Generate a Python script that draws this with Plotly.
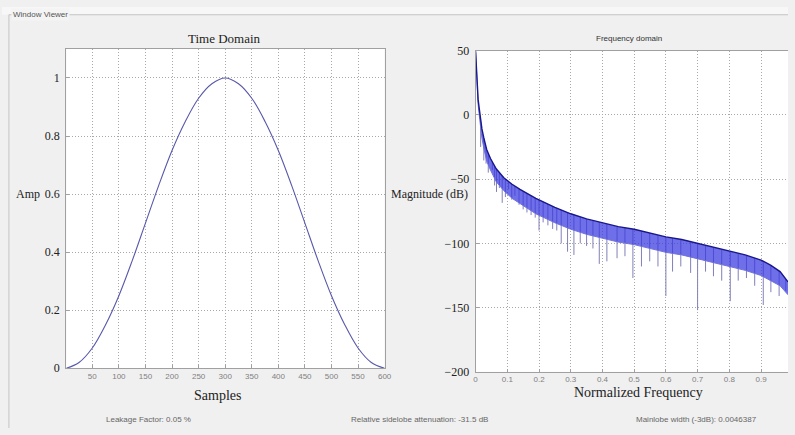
import numpy as np
import plotly.graph_objects as go

W, H = 795, 435

# ---- Time domain: window samples ----
samples = [1, 25, 50, 75, 100, 125, 150, 175, 200, 225, 250, 275, 300,
           325, 350, 375, 400, 425, 450, 475, 500, 525, 550, 575, 600]
amp = [0.0, 0.02, 0.07, 0.15, 0.25, 0.37, 0.50, 0.63, 0.75, 0.85, 0.93, 0.98, 1.0,
       0.98, 0.93, 0.85, 0.75, 0.63, 0.50, 0.37, 0.25, 0.15, 0.07, 0.02, 0.0]
time_xticks = [50, 100, 150, 200, 250, 300, 350, 400, 450, 500, 550, 600]
time_yticks = [0, 0.2, 0.4, 0.6, 0.8, 1]

# ---- Frequency domain: sidelobe band (upper edge) and deep nulls ----
env_freq = [0, 0.002, 0.005, 0.008, 0.011, 0.015, 0.02, 0.026, 0.035, 0.047, 0.065,
            0.089, 0.115, 0.14, 0.19, 0.25, 0.3, 0.35, 0.4, 0.45, 0.5, 0.55, 0.6,
            0.65, 0.7, 0.75, 0.8, 0.85, 0.9, 0.93, 0.96, 0.985]
env_top = [49.5, 40, 22, 12, 6, -3, -11, -18, -27, -34, -42, -49, -54, -58, -65,
           -72, -77, -81, -84, -87, -89, -92, -95, -97, -100, -103, -106, -109,
           -113, -117, -122, -130]
env_depth = [0, 2, 3, 4, 5, 6, 7, 8, 9, 9, 10, 10, 11, 11, 12, 12, 12, 12, 12, 12,
             12, 12, 12, 12, 12, 12, 12, 12, 12, 12, 11, 10]
null_freq = [0.016, 0.026, 0.033, 0.040, 0.053, 0.060, 0.066, 0.075, 0.084, 0.094,
             0.104, 0.114, 0.124, 0.137, 0.150, 0.162, 0.175, 0.188, 0.200, 0.213,
             0.228, 0.243, 0.256, 0.270, 0.290, 0.310, 0.330, 0.350, 0.370, 0.390,
             0.414, 0.446, 0.471, 0.496, 0.523, 0.549, 0.575, 0.600, 0.621, 0.647,
             0.678, 0.700, 0.725, 0.750, 0.776, 0.803, 0.828, 0.854, 0.880, 0.907,
             0.931, 0.957, 0.978]
null_db = [-25, -35.5, -38, -45, -43, -55, -60, -57, -68.5, -64, -58, -66, -63, -70,
           -73.6, -76, -78, -80, -90, -83.7, -86, -88.8, -90, -100, -106.5, -109,
           -100, -102, -104, -116, -114, -111.6, -110, -127, -118, -114, -118, -141,
           -122, -118, -123, -152, -122, -125.6, -129, -145, -129, -127, -133, -148,
           -138, -141, -137]
freq_xticks = [0, 0.1, 0.2, 0.3, 0.4, 0.5, 0.6, 0.7, 0.8, 0.9]
freq_yticks = [-200, -150, -100, -50, 0, 50]

SERIF = "Liberation Serif, Times New Roman, serif"
SANS = "Liberation Sans, Arial, sans-serif"


def px(x):
    return x / W


def py(y):
    return 1 - y / H


fig = go.Figure()

fig.add_trace(go.Scatter(x=samples, y=amp, mode="lines", line_shape="spline",
                         line=dict(color="#5858ac", width=1.1),
                         xaxis="x", yaxis="y", showlegend=False))

# deep nulls as thin drops below the band
top_at_null = np.interp(null_freq, env_freq, env_top)
sx, sy = [], []
for f, lo, hi in zip(null_freq, null_db, top_at_null):
    sx += [f, f, None]
    sy += [lo, hi, None]
fig.add_trace(go.Scatter(x=sx, y=sy, mode="lines",
                         line=dict(color="#8080b8", width=1),
                         xaxis="x2", yaxis="y2", showlegend=False))

env_bottom = [t - d for t, d in zip(env_top, env_depth)]
fig.add_trace(go.Scatter(x=env_freq, y=env_bottom, mode="lines",
                         line=dict(color="#7070d8", width=1),
                         xaxis="x2", yaxis="y2", showlegend=False))
fig.add_trace(go.Scatter(x=env_freq, y=env_top, mode="lines", fill="tonexty",
                         fillcolor="rgba(55,55,225,0.72)",
                         line=dict(color="#18188c", width=1.4),
                         xaxis="x2", yaxis="y2", showlegend=False))

axis_common = dict(showline=True, linecolor="#a0a0a0", linewidth=1,
                   showgrid=True, gridcolor="#a8a8a8", griddash="1px,2px",
                   gridwidth=1, zeroline=False, ticks="inside", ticklen=3,
                   tickcolor="#a0a0a0")

fig.update_layout(
    width=W, height=H,
    margin=dict(l=0, r=0, t=0, b=0),
    paper_bgcolor="#f0f0f0",
    plot_bgcolor="#ffffff",
    xaxis=dict(axis_common, domain=[px(65), px(387)], range=[1, 600],
               tickvals=time_xticks, mirror=True,
               tickfont=dict(family=SANS, size=8, color="#808080"),
               anchor="y"),
    yaxis=dict(axis_common, domain=[py(373.3), py(43.3)], range=[0, 1.1],
               tickvals=time_yticks, ticktext=["0", "0.2", "0.4", "0.6", "0.8", "1"],
               mirror=True, ticklabelstandoff=3,
               tickfont=dict(family=SERIF, size=12, color="#222222"),
               anchor="x"),
    xaxis2=dict(axis_common, domain=[px(479), 1.0], range=[0, 0.985],
                tickvals=freq_xticks, mirror=True,
                tickfont=dict(family=SANS, size=8, color="#808080"),
                anchor="y2"),
    yaxis2=dict(axis_common, domain=[py(377), py(45)], range=[-200, 50],
                tickvals=freq_yticks, mirror=False, ticklabelstandoff=3,
                tickfont=dict(family=SERIF, size=12, color="#222222"),
                anchor="x2"),
)

annotations = [
    dict(text="Time Domain", x=px(225), y=py(33), font=dict(family=SERIF, size=13, color="#222")),
    dict(text="Frequency domain", x=px(634), y=py(33), font=dict(family=SANS, size=8, color="#333")),
    dict(text="Samples", x=px(218), y=py(401), font=dict(family=SERIF, size=14, color="#222")),
    dict(text="Normalized Frequency", x=px(644), y=py(398), font=dict(family=SERIF, size=14, color="#222")),
    dict(text="Amp", x=px(40), y=py(193), xanchor="right", font=dict(family=SERIF, size=12, color="#222")),
    dict(text="Magnitude (dB)", x=px(473), y=py(193), xanchor="right", font=dict(family=SERIF, size=12, color="#222")),
    dict(text="Leakage Factor: 0.05 %", x=px(148), y=py(426), font=dict(family=SANS, size=8, color="#666")),
    dict(text="Relative sidelobe attenuation: -31.5 dB", x=px(422), y=py(426), font=dict(family=SANS, size=8, color="#666")),
    dict(text="Mainlobe width (-3dB): 0.0046387", x=px(702), y=py(426), font=dict(family=SANS, size=8, color="#666")),
    dict(text="Window Viewer", x=px(39), y=py(7.5), font=dict(family=SANS, size=8, color="#555"),
         bgcolor="#f4f4f4"),
]
for a in annotations:
    a.setdefault("xanchor", "center")
    a.update(xref="paper", yref="paper", showarrow=False, yanchor="middle")
fig.update_layout(annotations=annotations)

# group box frame around the viewer
fig.update_layout(shapes=[
    dict(type="rect", xref="paper", yref="paper", x0=0, x1=1, y0=py(8), y1=1,
         fillcolor="#f7f7f7", line=dict(width=0), layer="below"),
    dict(type="line", xref="paper", yref="paper", x0=px(7), x1=1, y0=py(8), y1=py(8),
         line=dict(color="#c4c4c4", width=1), layer="below"),
    dict(type="line", xref="paper", yref="paper", x0=px(7), x1=px(7), y0=0, y1=py(8),
         line=dict(color="#c4c4c4", width=1), layer="below"),
])

fig.write_html("out.html", config={"displayModeBar": False})
